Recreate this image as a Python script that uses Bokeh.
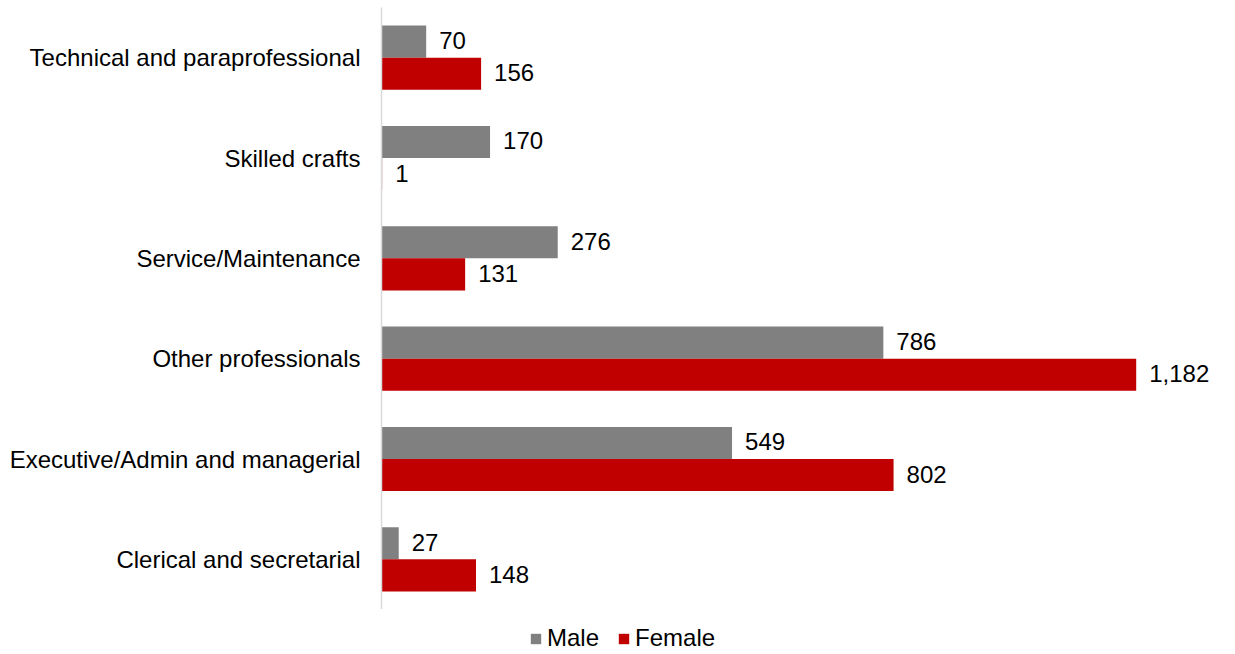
from bokeh.plotting import figure
from bokeh.models import ColumnDataSource, Legend, LegendItem, Range1d, FactorRange
from bokeh.transform import dodge
from bokeh.layouts import column
from bokeh.core.properties import value
from bokeh.embed import file_html
from bokeh.resources import INLINE

categories = ["Clerical and secretarial", "Executive/Admin and managerial", "Other professionals",
              "Service/Maintenance", "Skilled crafts", "Technical and paraprofessional"]
male = [27, 549, 786, 276, 170, 70]
female = [148, 802, 1182, 131, 1, 156]
series = ["Male", "Female"]
colors = ["#808080", "#C00000"]

FONT = "Liberation Sans"
FS = "24px"
W = 1227

src = ColumnDataSource(dict(
    cat=categories, male=male, female=female,
    male_lbl=[f"{v:,}" for v in male], female_lbl=[f"{v:,}" for v in female],
))

p = figure(width=W, height=609, y_range=FactorRange(*categories), x_range=Range1d(0, 1325),
           output_backend="svg", toolbar_location=None,
           min_border_left=381, min_border_right=0, min_border_top=7, min_border_bottom=0)

p.hbar(y=dodge("cat", 0.16, range=p.y_range), right="male", left=0, height=0.32,
       source=src, fill_color=colors[0], line_color=None)
p.hbar(y=dodge("cat", -0.16, range=p.y_range), right="female", left=0, height=0.32,
       source=src, fill_color=colors[1], line_color=None)

p.text(x="male", y=dodge("cat", 0.16, range=p.y_range), text="male_lbl", source=src,
       x_offset=13, y_offset=-1, text_baseline="middle", text_align="left",
       text_font=value(FONT), text_font_size=FS, text_color="#000000")
p.text(x="female", y=dodge("cat", -0.16, range=p.y_range), text="female_lbl", source=src,
       x_offset=13, y_offset=-1, text_baseline="middle", text_align="left",
       text_font=value(FONT), text_font_size=FS, text_color="#000000")

p.xaxis.visible = False
p.xgrid.grid_line_color = None
p.ygrid.grid_line_color = None
p.outline_line_color = None

ax = p.yaxis[0]
ax.axis_line_color = "#d9d9d9"
ax.axis_line_width = 1.5
ax.major_tick_line_color = None
ax.minor_tick_line_color = None
ax.major_label_standoff = 15
ax.major_label_text_font = FONT
ax.major_label_text_font_size = FS
ax.major_label_text_color = "#000000"

# legend strip below the chart (its frame is aligned with the chart's frame)
pl = figure(width=W, height=45, x_range=Range1d(0, 1), y_range=Range1d(0, 1),
            output_backend="svg", toolbar_location=None,
            min_border_left=381, min_border_right=0, min_border_top=0, min_border_bottom=0)
pl.axis.visible = False
pl.grid.grid_line_color = None
pl.outline_line_color = None
items = []
for name, col in zip(series, colors):
    # off-range swatch renderer, only used to draw the legend glyph
    r = pl.rect(x=[5], y=[5], width=0.1, height=0.1, fill_color=col, line_color=None)
    items.append(LegendItem(label=name, renderers=[r]))
legend = Legend(items=items, orientation="horizontal", location=(148, 2),
                label_text_font=FONT, label_text_font_size=FS, label_text_color="#000000",
                glyph_width=13, glyph_height=13, label_standoff=5, spacing=18,
                border_line_color=None, background_fill_alpha=0, margin=0, padding=0)
pl.add_layout(legend)

open("out.html", "w").write(file_html(column(p, pl, spacing=0), INLINE))
